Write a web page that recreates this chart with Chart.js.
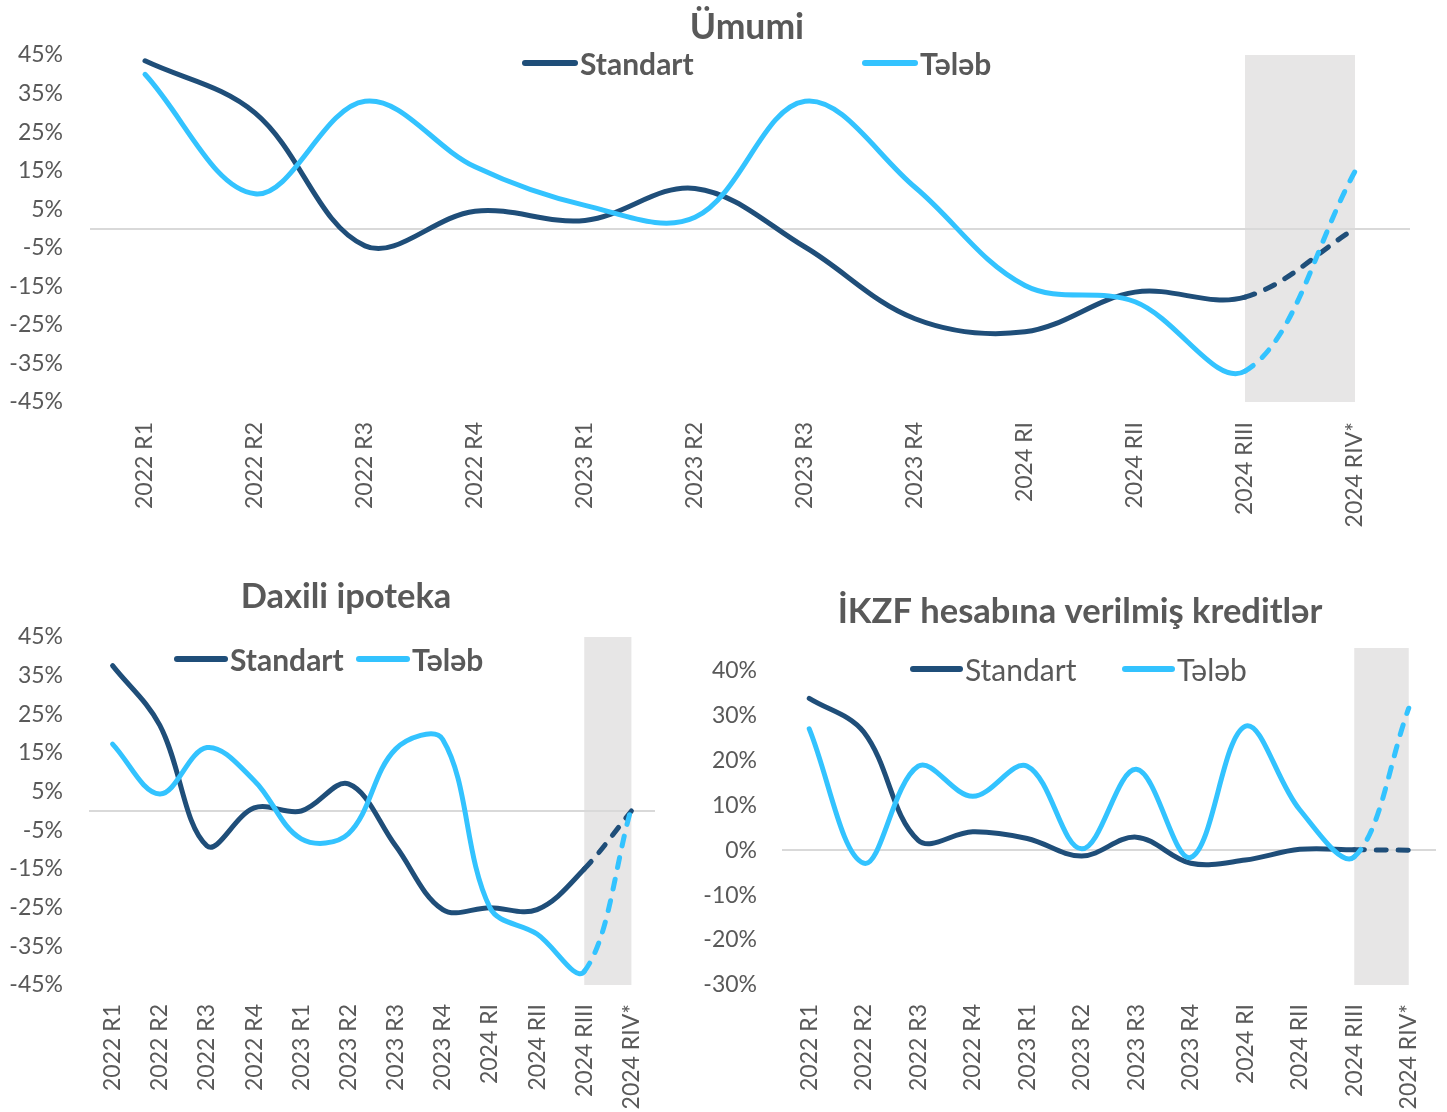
<!DOCTYPE html>
<html>
<head>
<meta charset="utf-8">
<script src="https://cdn.jsdelivr.net/npm/chart.js@4.4.1/dist/chart.umd.min.js"></script>
<style>
  html, body { margin: 0; padding: 0; background: #ffffff; }
  #page { position: relative; width: 1447px; height: 1112px; overflow: hidden; background: #fff; font-family: Lato, sans-serif; }
  .wrap { position: absolute; }
  .legend-item { position: absolute; display: flex; align-items: center; color: #595959; white-space: nowrap; transform: translateY(-50%); }
  .legend-item .sample { display: inline-block; height: 6px; border-radius: 3px; margin-right: 2px; }
</style>
</head>
<body>
<div id="page">
  <div class="wrap" style="left:0;top:0;width:1447px;height:540px;"><canvas id="c1" width="1447" height="540"></canvas></div>
  <div class="wrap" style="left:0;top:565px;width:680px;height:547px;"><canvas id="c2" width="680" height="547"></canvas></div>
  <div class="wrap" style="left:690px;top:565px;width:757px;height:547px;"><canvas id="c3" width="757" height="547"></canvas></div>
</div>
<script>
// ---------- DATA ----------
const categories = ['2022 R1','2022 R2','2022 R3','2022 R4','2023 R1','2023 R2','2023 R3','2023 R4','2024 RI','2024 RII','2024 RIII','2024 RIV*'];
const seriesNames = ['Standart', 'Tələb'];

const titleUmumi = 'Ümumi';
const titleIpoteka = 'Daxili ipoteka';
const titleIkzf = 'İKZF hesabına verilmiş kreditlər';

const umumiStandart = [43.5, 30, -4.5, 4.5, 2.1, 10.4, -4.8, -23.4, -26.8, -16.5, -17.8, 0];
const umumiTeleb    = [40, 9, 33, 16, 6, 2.9, 33, 10.7, -14.8, -19, -37, 14.8];

const ipotekaStandart = [37.6, 22.2, -9, 0.8, 0, 7, -9, -25.5, -25, -25.5, -15, 0];
const ipotekaTeleb    = [17.3, 4.4, 16.4, 7.9, -7.2, -5.9, 16, 18.5, -25, -31.8, -41.5, 0.8];

const ikzfStandart = [33.8, 26.3, 2.2, 4.1, 2.6, -1.3, 2.9, -2.9, -2.2, 0.2, 0.1, 0];
const ikzfTeleb    = [27, -2.9, 18.7, 12, 18.7, 0.3, 18, -1.6, 27.6, 9, -1.5, 31.6];

const ticksMain = [-45, -35, -25, -15, -5, 5, 15, 25, 35, 45];
const ticksIkzf = [-30, -20, -10, 0, 10, 20, 30, 40];
const rangeMain = [-45, 45];
const rangeIkzf = [-30, 45];

// index range of shaded forecast band (from category index to category index)
const shadeFrom = 10, shadeTo = 11;

// ---------- STYLE ----------
const DARK = '#1F4E79';
const LIGHT = '#33C3FF';
const TEXT = '#595959';
const FONT = 'Lato, sans-serif';

Chart.defaults.font.family = FONT;
Chart.defaults.color = TEXT;

const bandPlugin = {
  id: 'band',
  beforeDatasetsDraw(chart) {
    const {ctx, chartArea} = chart;
    const x = chart.scales.x, y = chart.scales.y;
    const x0 = x.getPixelForValue(shadeFrom), x1 = x.getPixelForValue(shadeTo);
    ctx.save();
    ctx.fillStyle = '#E7E6E6';
    ctx.fillRect(x0, chartArea.top, x1 - x0, chartArea.bottom - chartArea.top);
    const yz = Math.round(y.getPixelForValue(0));
    ctx.strokeStyle = '#D9D9D9';
    ctx.lineWidth = 2;
    ctx.beginPath();
    ctx.moveTo(chartArea.left, yz);
    ctx.lineTo(chartArea.right, yz);
    ctx.stroke();
    ctx.restore();
  }
};

function makeDataset(label, data, color, order, dash) {
  return {
    label, data,
    borderColor: color,
    backgroundColor: color,
    borderWidth: 5,
    borderCapStyle: 'round',
    borderJoinStyle: 'round',
    pointRadius: 0,
    pointHoverRadius: 0,
    tension: 0.36,
    fill: false,
    order,
    segment: {
      borderDash: ctx => ctx.p1DataIndex >= shadeTo ? dash : undefined
    }
  };
}

function makeChart(id, cfg) {
  return new Chart(document.getElementById(id), {
    type: 'line',
    data: {
      labels: categories,
      datasets: [
        makeDataset(seriesNames[0], cfg.standart, DARK, 1, [10, 12]),
        makeDataset(seriesNames[1], cfg.teleb, LIGHT, 0, [10, 12])
      ]
    },
    options: {
      responsive: false,
      animation: false,
      devicePixelRatio: 1,
      layout: { padding: { left: cfg.padLeft, right: cfg.padRight, top: 0, bottom: 0 } },
      plugins: {
        legend: { display: false },
        tooltip: { enabled: false },
        title: {
          display: true,
          text: cfg.title,
          color: TEXT,
          font: { family: FONT, size: cfg.titleSize, weight: 'bold' },
          padding: { top: cfg.titleTop, bottom: cfg.titleBottom }
        }
      },
      scales: {
        x: {
          type: 'category',
          offset: true,
          grid: { display: false, drawTicks: false },
          border: { display: false },
          ticks: {
            minRotation: 90, maxRotation: 90, autoSkip: false,
            padding: cfg.xPad,
            color: TEXT,
            font: { family: FONT, size: 23 }
          },
          afterFit(scale) {
            scale.height = cfg.xHeight;
            scale.paddingLeft = 0;
            scale.paddingRight = 0;
          }
        },
        y: {
          min: cfg.range[0], max: cfg.range[1],
          grid: { display: false, drawTicks: false },
          border: { display: false },
          ticks: {
            padding: cfg.yPad,
            color: TEXT,
            font: { family: FONT, size: 23 },
            callback: v => v + '%'
          },
          afterBuildTicks(scale) { scale.ticks = cfg.ticks.map(v => ({ value: v })); },
          afterFit(scale) {
            scale.width = cfg.yWidth;
            // let tick labels extend into the layout padding (no clipping to the narrow axis box)
            scale._computeLabelArea = () => undefined;
          }
        }
      }
    },
    plugins: [bandPlugin]
  });
}

makeChart('c1', {
  title: titleUmumi, titleSize: 35.5, titleTop: 6.7, titleBottom: 5.7,
  standart: umumiStandart, teleb: umumiTeleb,
  range: rangeMain, ticks: ticksMain,
  padLeft: 84, padRight: 37, yWidth: 6, yPad: 27, xHeight: 138, xPad: 20
});
makeChart('c2', {
  title: titleIpoteka, titleSize: 34.5, titleTop: 11.3, titleBottom: 19.3,
  standart: ipotekaStandart, teleb: ipotekaTeleb,
  range: rangeMain, ticks: ticksMain,
  padLeft: 37, padRight: 25, yWidth: 52, yPad: 26, xHeight: 127, xPad: 19
});
makeChart('c3', {
  title: titleIkzf, titleSize: 34.5, titleTop: 26.3, titleBottom: 15.3,
  standart: ikzfStandart, teleb: ikzfTeleb,
  range: rangeIkzf, ticks: ticksIkzf,
  padLeft: 34, padRight: 11, yWidth: 58, yPad: 25, xHeight: 127, xPad: 19
});

// ---------- HTML legends (real text) ----------
const legends = [
  { y: 63, weight: 700, size: 30, items: [{ x: 522, w: 56 }, { x: 862, w: 56 }] },
  { y: 659, weight: 700, size: 30, items: [{ x: 174, w: 54 }, { x: 356, w: 54 }] },
  { y: 669, weight: 400, size: 30, items: [{ x: 910, w: 53 }, { x: 1122, w: 53 }] }
];
const colors = [DARK, LIGHT];
const page = document.getElementById('page');
legends.forEach(lg => {
  lg.items.forEach((it, i) => {
    const d = document.createElement('div');
    d.className = 'legend-item';
    d.style.left = it.x + 'px';
    d.style.top = lg.y + 'px';
    d.style.fontSize = lg.size + 'px';
    d.style.fontWeight = lg.weight;
    const s = document.createElement('span');
    s.className = 'sample';
    s.style.width = it.w + 'px';
    s.style.background = colors[i];
    const t = document.createElement('span');
    t.textContent = seriesNames[i];
    d.appendChild(s); d.appendChild(t);
    page.appendChild(d);
  });
});
</script>
</body>
</html>
